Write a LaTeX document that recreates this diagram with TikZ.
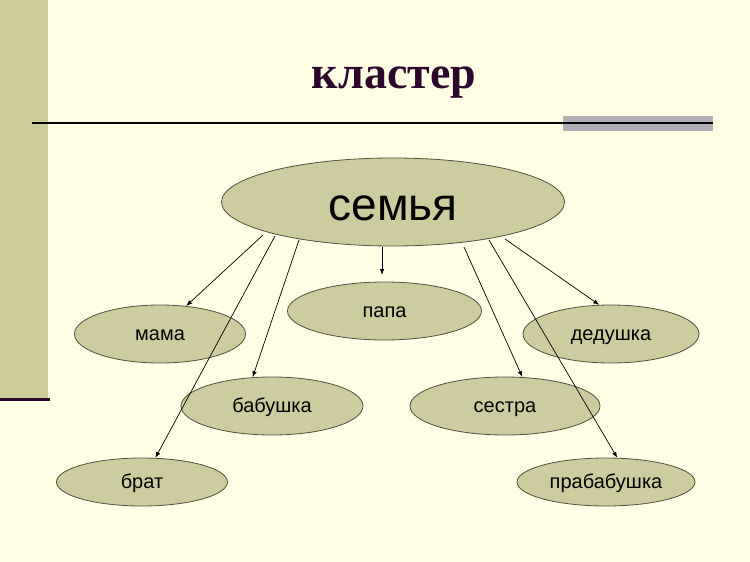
\documentclass[tikz,border=0pt]{standalone}
\usepackage{fontspec}
\setmainfont{Liberation Sans}
\newfontfamily\titlefont{Liberation Serif}
\usetikzlibrary{arrows.meta,shapes.geometric}
\definecolor{bgcol}{RGB}{255,255,229}
\definecolor{barcol}{RGB}{204,204,153}
\definecolor{darkpurple}{RGB}{45,8,45}
\definecolor{graybar}{RGB}{178,175,182}
\definecolor{ellfill}{RGB}{204,204,158}
\definecolor{elldraw}{RGB}{80,80,60}
\tikzset{
  bubble/.style={ellipse, draw=elldraw, line width=0.8pt, fill=ellfill, inner sep=0pt},
  small/.style={bubble, font=\fontsize{20}{24}\selectfont, text height=13pt, text depth=0pt},
  conn/.style={draw=black, line width=0.7pt, -{Latex[length=6pt,width=4.5pt]}},
}
\begin{document}
\begin{tikzpicture}[x=1pt,y=-1pt]
\useasboundingbox (0,0) rectangle (750,562);
\fill[bgcol] (0,0) rectangle (750,562);
% left bar
\fill[barcol] (0,0) rectangle (48,398);
\fill[darkpurple] (0,397.5) rectangle (50,401);
% title
\node[font=\titlefont\bfseries\fontsize{46}{50}\selectfont, text=darkpurple, anchor=base] (title) at (394,88) {кластер};
% rule
\fill[graybar] (563,116) rectangle (713,131);
\draw[line width=1.6pt] (32,123) -- (713,123);
% ellipses
\node[bubble, minimum width=343, minimum height=88, font=\fontsize{46}{50}\selectfont, text height=36pt, text depth=0pt] (semya) at (393,202) {семья};
\node[small, minimum width=171, minimum height=58] (mama) at (160,334) {мама};
\node[small, minimum width=194, minimum height=58] (papa) at (384.5,311) {папа};
\node[small, minimum width=182, minimum height=58] (babushka) at (272,406) {бабушка};
\node[small, minimum width=171, minimum height=48] (brat) at (142,482) {брат};
\node[small, minimum width=176, minimum height=58] (dedushka) at (611,334) {дедушка};
\node[small, minimum width=190, minimum height=58] (sestra) at (505,406) {сестра};
\node[small, minimum width=178, minimum height=48] (prababushka) at (606,482) {прабабушка};
% connector start points
\coordinate (s1) at (263,235);
\coordinate (s2) at (275,236);
\coordinate (s3) at (299,240);
\coordinate (s4) at (382,247);
\coordinate (s5) at (464,247);
\coordinate (s6) at (489,240);
\coordinate (s7) at (505,239);
\coordinate (e4) at (382,275);
% connectors
\draw[conn] (s1) -- (mama.47);
\draw[conn] (s2) -- (brat.61);
\draw[conn] (s3) -- (babushka.124);
\draw[conn] (s4) -- (e4);
\draw[conn] (s5) -- (sestra.59);
\draw[conn] (s6) -- (prababushka.65);
\draw[conn] (s7) -- (dedushka.112);
\end{tikzpicture}
\end{document}
